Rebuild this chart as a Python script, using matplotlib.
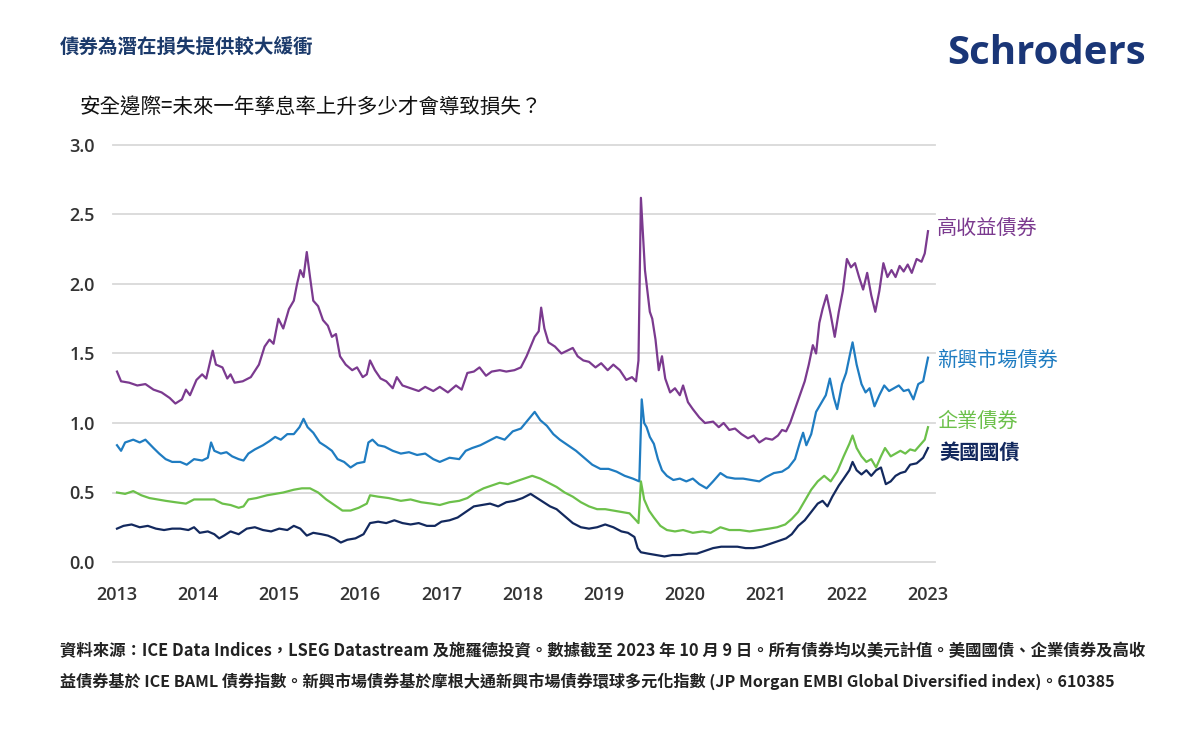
import matplotlib
matplotlib.use("Agg")
import matplotlib.pyplot as plt

plt.rcParams['font.family'] = ['Noto Sans CJK TC', 'DejaVu Sans']

# ---------------- data ----------------
hy_x = [2013.00, 2013.05, 2013.15, 2013.25, 2013.35, 2013.45, 2013.55, 2013.65, 2013.72, 2013.80,
        2013.85, 2013.90, 2013.98, 2014.05, 2014.10, 2014.18, 2014.22, 2014.30, 2014.36, 2014.40,
        2014.45, 2014.55, 2014.65, 2014.75, 2014.82, 2014.88, 2014.93, 2014.99, 2015.05, 2015.12,
        2015.18, 2015.22, 2015.26, 2015.30, 2015.34, 2015.38, 2015.42, 2015.48, 2015.54, 2015.60,
        2015.65, 2015.70, 2015.75, 2015.82, 2015.90, 2015.96, 2016.03, 2016.08, 2016.12, 2016.18,
        2016.25, 2016.32, 2016.40, 2016.45, 2016.52, 2016.62, 2016.72, 2016.80, 2016.90, 2016.98,
        2017.08, 2017.18, 2017.25, 2017.32, 2017.40, 2017.47, 2017.55, 2017.62, 2017.72, 2017.80,
        2017.90, 2017.98, 2018.05, 2018.10, 2018.15, 2018.20, 2018.23, 2018.27, 2018.32, 2018.40,
        2018.48, 2018.55, 2018.62, 2018.68, 2018.75, 2018.82, 2018.90, 2018.97, 2019.05, 2019.12,
        2019.20, 2019.28, 2019.35, 2019.40, 2019.43, 2019.46, 2019.49, 2019.51, 2019.54, 2019.57,
        2019.60, 2019.64, 2019.68, 2019.72, 2019.76, 2019.82, 2019.88, 2019.94, 2019.98, 2020.04,
        2020.10, 2020.18, 2020.25, 2020.35, 2020.42, 2020.48, 2020.55, 2020.62, 2020.70, 2020.78,
        2020.85, 2020.92, 2021.00, 2021.08, 2021.15, 2021.20, 2021.25, 2021.30, 2021.36, 2021.42,
        2021.48, 2021.53, 2021.58, 2021.62, 2021.66, 2021.70, 2021.75, 2021.80, 2021.85, 2021.90,
        2021.95, 2022.00, 2022.05, 2022.10, 2022.15, 2022.20, 2022.25, 2022.30, 2022.35, 2022.40,
        2022.45, 2022.50, 2022.55, 2022.60, 2022.65, 2022.70, 2022.75, 2022.80, 2022.86, 2022.92,
        2022.96, 2023.00]
hy_y = [1.37, 1.30, 1.29, 1.27, 1.28, 1.24, 1.22, 1.18, 1.14, 1.17,
        1.24, 1.20, 1.31, 1.35, 1.32, 1.52, 1.42, 1.40, 1.32, 1.35,
        1.29, 1.30, 1.33, 1.42, 1.55, 1.60, 1.57, 1.75, 1.68, 1.82,
        1.88, 2.00, 2.10, 2.05, 2.23, 2.05, 1.88, 1.84, 1.74, 1.70,
        1.62, 1.64, 1.48, 1.42, 1.38, 1.40, 1.33, 1.35, 1.45, 1.38,
        1.32, 1.30, 1.25, 1.33, 1.27, 1.25, 1.23, 1.26, 1.23, 1.26,
        1.22, 1.27, 1.24, 1.36, 1.37, 1.40, 1.34, 1.37, 1.38, 1.37,
        1.38, 1.40, 1.48, 1.55, 1.62, 1.66, 1.83, 1.68, 1.58, 1.55,
        1.50, 1.52, 1.54, 1.48, 1.45, 1.44, 1.40, 1.43, 1.38, 1.42,
        1.38, 1.31, 1.33, 1.30, 1.45, 2.62, 2.30, 2.10, 1.95, 1.80,
        1.75, 1.60, 1.38, 1.48, 1.32, 1.22, 1.25, 1.20, 1.27, 1.15,
        1.10, 1.04, 1.00, 1.01, 0.97, 1.00, 0.95, 0.96, 0.92, 0.89,
        0.91, 0.86, 0.89, 0.88, 0.91, 0.95, 0.94, 1.00, 1.10, 1.20,
        1.30, 1.42, 1.56, 1.50, 1.72, 1.82, 1.92, 1.78, 1.62, 1.80,
        1.95, 2.18, 2.12, 2.15, 2.05, 1.96, 2.08, 1.92, 1.80, 1.95,
        2.15, 2.05, 2.10, 2.05, 2.13, 2.09, 2.14, 2.08, 2.18, 2.16,
        2.22, 2.38]

em_x = [2013.00, 2013.05, 2013.10, 2013.20, 2013.28, 2013.35, 2013.45, 2013.52, 2013.60, 2013.68,
        2013.78, 2013.86, 2013.95, 2014.05, 2014.12, 2014.16, 2014.20, 2014.28, 2014.35, 2014.42,
        2014.50, 2014.56, 2014.62, 2014.70, 2014.80, 2014.88, 2014.95, 2015.02, 2015.10, 2015.18,
        2015.25, 2015.30, 2015.35, 2015.42, 2015.50, 2015.58, 2015.65, 2015.72, 2015.80, 2015.88,
        2015.96, 2016.05, 2016.10, 2016.15, 2016.22, 2016.30, 2016.40, 2016.50, 2016.60, 2016.70,
        2016.80, 2016.90, 2016.98, 2017.10, 2017.22, 2017.30, 2017.38, 2017.48, 2017.58, 2017.68,
        2017.78, 2017.88, 2017.98, 2018.08, 2018.15, 2018.22, 2018.30, 2018.38, 2018.46, 2018.56,
        2018.66, 2018.76, 2018.86, 2018.96, 2019.06, 2019.16, 2019.26, 2019.36, 2019.44, 2019.47,
        2019.50, 2019.53, 2019.57, 2019.62, 2019.67, 2019.72, 2019.78, 2019.86, 2019.94, 2020.02,
        2020.10, 2020.18, 2020.27, 2020.35, 2020.44, 2020.52, 2020.62, 2020.72, 2020.82, 2020.92,
        2021.00, 2021.10, 2021.20, 2021.28, 2021.36, 2021.42, 2021.46, 2021.50, 2021.56, 2021.62,
        2021.68, 2021.74, 2021.79, 2021.84, 2021.88, 2021.94, 2021.99, 2022.04, 2022.07, 2022.12,
        2022.18, 2022.23, 2022.28, 2022.34, 2022.40, 2022.46, 2022.52, 2022.58, 2022.64, 2022.70,
        2022.76, 2022.82, 2022.88, 2022.94, 2023.00]
em_y = [0.84, 0.80, 0.86, 0.88, 0.86, 0.88, 0.82, 0.78, 0.74, 0.72,
        0.72, 0.70, 0.74, 0.73, 0.75, 0.86, 0.80, 0.78, 0.79, 0.76,
        0.74, 0.73, 0.78, 0.81, 0.84, 0.87, 0.90, 0.88, 0.92, 0.92,
        0.97, 1.03, 0.97, 0.93, 0.86, 0.83, 0.80, 0.74, 0.72, 0.68,
        0.71, 0.72, 0.86, 0.88, 0.84, 0.83, 0.80, 0.78, 0.79, 0.77,
        0.78, 0.74, 0.72, 0.75, 0.74, 0.80, 0.82, 0.84, 0.87, 0.90,
        0.88, 0.94, 0.96, 1.03, 1.08, 1.02, 0.98, 0.92, 0.88, 0.84,
        0.80, 0.75, 0.70, 0.67, 0.67, 0.65, 0.62, 0.60, 0.58, 1.17,
        1.00, 0.97, 0.90, 0.85, 0.74, 0.66, 0.62, 0.59, 0.60, 0.58,
        0.60, 0.56, 0.53, 0.58, 0.64, 0.61, 0.60, 0.60, 0.59, 0.58,
        0.61, 0.64, 0.65, 0.68, 0.74, 0.86, 0.93, 0.84, 0.92, 1.08,
        1.14, 1.20, 1.32, 1.18, 1.10, 1.28, 1.36, 1.50, 1.58, 1.42,
        1.28, 1.22, 1.25, 1.12, 1.20, 1.27, 1.23, 1.25, 1.27, 1.23,
        1.24, 1.17, 1.28, 1.30, 1.47]

ig_x = [2013.00, 2013.10, 2013.20, 2013.30, 2013.40, 2013.50, 2013.60, 2013.72, 2013.85, 2013.95,
        2014.10, 2014.20, 2014.30, 2014.40, 2014.50, 2014.56, 2014.62, 2014.72, 2014.85, 2014.95,
        2015.05, 2015.18, 2015.28, 2015.38, 2015.48, 2015.58, 2015.68, 2015.78, 2015.88, 2015.98,
        2016.08, 2016.12, 2016.22, 2016.35, 2016.50, 2016.62, 2016.75, 2016.88, 2016.98, 2017.10,
        2017.22, 2017.32, 2017.42, 2017.52, 2017.62, 2017.72, 2017.82, 2017.92, 2018.02, 2018.12,
        2018.22, 2018.32, 2018.42, 2018.52, 2018.62, 2018.72, 2018.82, 2018.92, 2019.02, 2019.12,
        2019.22, 2019.32, 2019.40, 2019.43, 2019.46, 2019.50, 2019.56, 2019.62, 2019.70, 2019.78,
        2019.88, 2019.98, 2020.10, 2020.22, 2020.32, 2020.44, 2020.55, 2020.68, 2020.80, 2020.92,
        2021.04, 2021.14, 2021.24, 2021.32, 2021.40, 2021.48, 2021.56, 2021.64, 2021.72, 2021.80,
        2021.88, 2021.96, 2022.03, 2022.07, 2022.12, 2022.18, 2022.24, 2022.30, 2022.36, 2022.42,
        2022.47, 2022.54, 2022.60, 2022.66, 2022.72, 2022.78, 2022.84, 2022.90, 2022.96, 2023.00]
ig_y = [0.50, 0.49, 0.51, 0.48, 0.46, 0.45, 0.44, 0.43, 0.42, 0.45,
        0.45, 0.45, 0.42, 0.41, 0.39, 0.40, 0.45, 0.46, 0.48, 0.49,
        0.50, 0.52, 0.53, 0.53, 0.50, 0.45, 0.41, 0.37, 0.37, 0.39,
        0.42, 0.48, 0.47, 0.46, 0.44, 0.45, 0.43, 0.42, 0.41, 0.43,
        0.44, 0.46, 0.50, 0.53, 0.55, 0.57, 0.56, 0.58, 0.60, 0.62,
        0.60, 0.57, 0.54, 0.50, 0.47, 0.43, 0.40, 0.38, 0.38, 0.37,
        0.36, 0.35, 0.30, 0.28, 0.58, 0.45, 0.37, 0.32, 0.26, 0.23,
        0.22, 0.23, 0.21, 0.22, 0.21, 0.25, 0.23, 0.23, 0.22, 0.23,
        0.24, 0.25, 0.27, 0.31, 0.36, 0.44, 0.52, 0.58, 0.62, 0.58,
        0.65, 0.76, 0.85, 0.91, 0.82, 0.76, 0.72, 0.74, 0.68, 0.76,
        0.82, 0.76, 0.78, 0.80, 0.78, 0.81, 0.80, 0.84, 0.88, 0.97]

ust_x = [2013.00, 2013.08, 2013.18, 2013.28, 2013.38, 2013.48, 2013.58, 2013.68, 2013.78, 2013.88,
         2013.95, 2014.02, 2014.12, 2014.20, 2014.26, 2014.32, 2014.40, 2014.50, 2014.60, 2014.70,
         2014.80, 2014.90, 2015.00, 2015.10, 2015.18, 2015.26, 2015.34, 2015.42, 2015.52, 2015.60,
         2015.68, 2015.76, 2015.84, 2015.94, 2016.04, 2016.12, 2016.22, 2016.32, 2016.42, 2016.52,
         2016.62, 2016.72, 2016.82, 2016.92, 2017.00, 2017.10, 2017.20, 2017.30, 2017.40, 2017.50,
         2017.60, 2017.70, 2017.80, 2017.90, 2018.00, 2018.10, 2018.18, 2018.26, 2018.34, 2018.42,
         2018.52, 2018.62, 2018.72, 2018.82, 2018.92, 2019.02, 2019.12, 2019.22, 2019.30, 2019.38,
         2019.42, 2019.46, 2019.55, 2019.65, 2019.75, 2019.85, 2019.95, 2020.05, 2020.15, 2020.25,
         2020.35, 2020.45, 2020.55, 2020.65, 2020.75, 2020.85, 2020.95, 2021.05, 2021.15, 2021.25,
         2021.32, 2021.40, 2021.48, 2021.56, 2021.64, 2021.70, 2021.76, 2021.82, 2021.90, 2021.96,
         2022.03, 2022.07, 2022.12, 2022.18, 2022.24, 2022.30, 2022.36, 2022.42, 2022.48, 2022.54,
         2022.60, 2022.66, 2022.72, 2022.78, 2022.86, 2022.94, 2023.00]
ust_y = [0.24, 0.26, 0.27, 0.25, 0.26, 0.24, 0.23, 0.24, 0.24, 0.23,
         0.25, 0.21, 0.22, 0.20, 0.17, 0.19, 0.22, 0.20, 0.24, 0.25,
         0.23, 0.22, 0.24, 0.23, 0.26, 0.24, 0.19, 0.21, 0.20, 0.19,
         0.17, 0.14, 0.16, 0.17, 0.20, 0.28, 0.29, 0.28, 0.30, 0.28,
         0.27, 0.28, 0.26, 0.26, 0.29, 0.30, 0.32, 0.36, 0.40, 0.41,
         0.42, 0.40, 0.43, 0.44, 0.46, 0.49, 0.46, 0.43, 0.40, 0.38,
         0.33, 0.28, 0.25, 0.24, 0.25, 0.27, 0.25, 0.22, 0.21, 0.18,
         0.10, 0.07, 0.06, 0.05, 0.04, 0.05, 0.05, 0.06, 0.06, 0.08,
         0.10, 0.11, 0.11, 0.11, 0.10, 0.10, 0.11, 0.13, 0.15, 0.17,
         0.20, 0.26, 0.30, 0.36, 0.42, 0.44, 0.40, 0.47, 0.55, 0.60,
         0.66, 0.72, 0.66, 0.63, 0.66, 0.62, 0.66, 0.68, 0.56, 0.58,
         0.62, 0.64, 0.65, 0.70, 0.71, 0.75, 0.82]

series_names = ["高收益債券", "新興市場債券", "企業債券", "美國國債"]
year_ticks = [2013, 2014, 2015, 2016, 2017, 2018, 2019, 2020, 2021, 2022, 2023]
y_ticks = [0.0, 0.5, 1.0, 1.5, 2.0, 2.5, 3.0]

title = "債券為潛在損失提供較大緩衝"
subtitle = "安全邊際=未來一年孳息率上升多少才會導致損失？"
footnote1 = ("資料來源：ICE Data Indices，LSEG Datastream 及施羅德投資。數據截至 2023 年 10 月 9 日。"
             "所有債券均以美元計值。美國國債、企業債券及高收")
footnote2 = ("益債券基於 ICE BAML 債券指數。新興市場債券基於摩根大通新興市場債券環球多元化指數 "
             "(JP Morgan EMBI Global Diversified index)。610385")

# ---------------- styles ----------------
C_HY = "#7b3a8f"
C_EM = "#1f7cc1"
C_IG = "#6cc04a"
C_UST = "#13295e"
NAVY = "#1b3a6b"

fig = plt.figure(figsize=(12, 7.5), dpi=100)
W, H = 1200, 750
ax_l, ax_r, ax_b, ax_t = 113, 935, 562, 145
ax = fig.add_axes([ax_l / W, 1 - ax_b / H, (ax_r - ax_l) / W, (ax_b - ax_t) / H])

ax.plot(hy_x, hy_y, color=C_HY, lw=1.6, zorder=3)
ax.plot(em_x, em_y, color=C_EM, lw=1.6, zorder=3)
ax.plot(ig_x, ig_y, color=C_IG, lw=1.6, zorder=3)
ax.plot(ust_x, ust_y, color=C_UST, lw=1.6, zorder=3)

x0 = 2013 - 4 / 81.1
x1 = 2023 + 7 / 81.1
ax.set_xlim(x0, x1)
ax.set_ylim(0, 3.0)
ax.set_yticks(y_ticks)
ax.set_yticklabels([f"{v:.1f}" for v in y_ticks], fontsize=13, color="#333333",
                   family=['Open Sans', 'DejaVu Sans'], fontweight='semibold')
ax.set_xticks(year_ticks)
ax.set_xticklabels([str(y) for y in year_ticks], fontsize=13, color="#333333",
                   family=['Open Sans', 'DejaVu Sans'], fontweight='semibold')
ax.tick_params(axis='both', length=0)
ax.tick_params(axis='y', pad=13)
ax.tick_params(axis='x', pad=17)
for s in ax.spines.values():
    s.set_visible(False)
ax.grid(axis='y', color="#d9d9d9", lw=1.3, zorder=0)
ax.set_axisbelow(True)
for gl in ax.get_ygridlines():
    gl.set_clip_on(False)

# series labels at right
lab_kw = dict(fontsize=14.5, va='center', ha='left')
fig.text(937 / W, 1 - 228 / H, series_names[0], color=C_HY, **lab_kw)
fig.text(937 / W, 1 - 360 / H, series_names[1], color=C_EM, **lab_kw)
fig.text(937 / W, 1 - 421 / H, series_names[2], color=C_IG, **lab_kw)
fig.text(939 / W, 1 - 452 / H, series_names[3], color=C_UST, fontweight='bold',
         fontsize=14.5, va='center', ha='left')

# titles
fig.text(60 / W, 1 - 48 / H, title, fontsize=14, fontweight='bold', color=NAVY,
         va='center', ha='left')
fig.text(80 / W, 1 - 108 / H, subtitle, fontsize=14.8, color="#111111",
         va='center', ha='left')

# logo text
fig.text(1146 / W, 1 - 53 / H, "Schroders", fontsize=29, fontweight='bold',
         color="#1a3677", family=['Open Sans', 'DejaVu Sans'], va='center', ha='right')

# footnotes
fig.text(60 / W, 1 - 651 / H, footnote1, fontsize=11.8, color="#222222",
         fontweight='bold', va='center', ha='left')
fig.text(60 / W, 1 - 681 / H, footnote2, fontsize=11.6, color="#222222",
         fontweight='bold', va='center', ha='left')

fig.savefig("out.png", dpi=100, facecolor="white")
